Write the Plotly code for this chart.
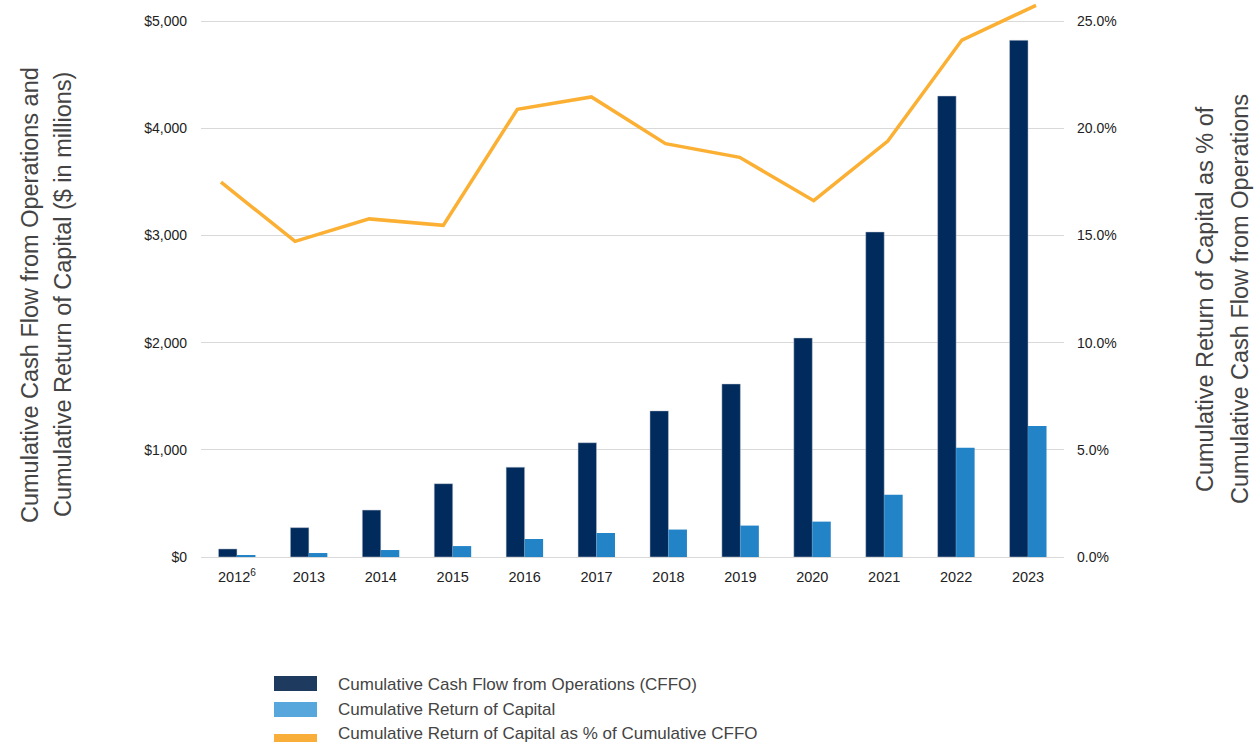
import plotly.graph_objects as go

years = ["2012", "2013", "2014", "2015", "2016", "2017", "2018", "2019", "2020", "2021", "2022", "2023"]
year_labels = ["2012<sup>6</sup>", "2013", "2014", "2015", "2016", "2017", "2018", "2019", "2020", "2021", "2022", "2023"]
cffo = [75, 274, 438, 684, 838, 1066, 1363, 1614, 2043, 3032, 4300, 4820]
roc = [12, 37, 65, 102, 168, 224, 256, 293, 330, 581, 1019, 1223]
roc_pct = [17.48, 14.72, 15.77, 15.47, 20.88, 21.46, 19.28, 18.64, 16.62, 19.40, 24.11, 25.73]

left_ticks = [0, 1000, 2000, 3000, 4000, 5000]
right_ticks = [0, 5, 10, 15, 20, 25]
left_text = [f"${v:,}" for v in left_ticks]
right_text = [f"{v:.1f}%" for v in right_ticks]

NAVY = "#002B5C"
BLUE = "#2383C7"
ORANGE = "#FBB034"
FONT = "Liberation Sans"

W, H = 1258, 742
L, R, T, B = 201, 194, 3, 185
pw, ph = W - L - R, H - T - B

def px(x):
    return (x - L) / pw

def py(y):
    return (H - B - y) / ph

fig = go.Figure()
fig.add_trace(go.Bar(x=years, y=cffo, name="Cumulative Cash Flow from Operations (CFFO)",
                     marker=dict(color=NAVY, line=dict(width=0.6, color="rgba(200,205,215,0.8)")),
                     showlegend=False))
fig.add_trace(go.Bar(x=years, y=roc, name="Cumulative Return of Capital",
                     marker=dict(color=BLUE, line=dict(width=0)), showlegend=False))
fig.add_trace(go.Scatter(x=list(range(len(years))), y=roc_pct, mode="lines",
                         name="Cumulative Return of Capital as % of Cumulative CFFO",
                         line=dict(color=ORANGE, width=3.5), xaxis="x2", yaxis="y2",
                         showlegend=False))

top_left = 5000 * (557 - 3) / (557 - 21)
top_right = 25 * (557 - 3) / (557 - 21)

fig.update_layout(
    width=W, height=H,
    margin=dict(l=L, r=R, t=T, b=B),
    paper_bgcolor="white", plot_bgcolor="white",
    font=dict(family=FONT, color="#222222", size=14),
    barmode="group", bargap=0.486, bargroupgap=0,
    xaxis=dict(type="category", tickvals=years, ticktext=year_labels,
               showgrid=False, showline=True, linecolor="#d9d9d9", linewidth=1,
               ticks="", ticklabelstandoff=7, tickfont=dict(size=14.5, color="#222222")),
    xaxis2=dict(overlaying="x", range=[-0.270, 11.378], visible=False),
    yaxis=dict(range=[0, top_left], tickmode="array", tickvals=left_ticks, ticktext=left_text,
               showgrid=True, gridcolor="#d9d9d9", gridwidth=1, zeroline=False,
               ticks="", ticklabelstandoff=13, tickfont=dict(size=14, color="#222222")),
    yaxis2=dict(range=[0, top_right], tickmode="array", tickvals=right_ticks, ticktext=right_text,
                overlaying="y", side="right", showgrid=False, zeroline=False,
                ticks="", ticklabelstandoff=12, tickfont=dict(size=14, color="#222222")),
)

title_color = "#444444"
TS = 23.5
ann = []
ann.append(dict(text="Cumulative Cash Flow from Operations and", x=px(30), y=py(295),
                xref="paper", yref="paper", textangle=-90, showarrow=False,
                xanchor="center", yanchor="middle", font=dict(size=TS, color=title_color)))
ann.append(dict(text="Cumulative Return of Capital ($ in millions)", x=px(63), y=py(295),
                xref="paper", yref="paper", textangle=-90, showarrow=False,
                xanchor="center", yanchor="middle", font=dict(size=TS, color=title_color)))
ann.append(dict(text="Cumulative Return of Capital as % of", x=px(1205), y=py(299),
                xref="paper", yref="paper", textangle=-90, showarrow=False,
                xanchor="center", yanchor="middle", font=dict(size=TS, color=title_color)))
ann.append(dict(text="Cumulative Cash Flow from Operations", x=px(1240), y=py(299),
                xref="paper", yref="paper", textangle=-90, showarrow=False,
                xanchor="center", yanchor="middle", font=dict(size=TS, color=title_color)))

legend_items = [
    ("Cumulative Cash Flow from Operations (CFFO)", "#1F3A5F", 676, 691, 684),
    ("Cumulative Return of Capital", "#57A6DC", 702, 717, 709),
    ("Cumulative Return of Capital as % of Cumulative CFFO", "#F9AE3A", 734, 749, 733),
]
shapes = []
for label, col, y0, y1, yc in legend_items:
    shapes.append(dict(type="rect", xref="paper", yref="paper",
                       x0=px(274), x1=px(317), y0=py(y1), y1=py(y0),
                       fillcolor=col, line=dict(width=0)))
    ann.append(dict(text=label, x=px(336), y=py(yc), xref="paper", yref="paper",
                    showarrow=False, xanchor="left", yanchor="middle",
                    font=dict(size=17, color="#444444")))

fig.update_layout(annotations=ann, shapes=shapes)
fig.write_html("out.html", config={"displayModeBar": False},
               post_script="document.body.style.margin='0';document.body.style.overflow='hidden';")
